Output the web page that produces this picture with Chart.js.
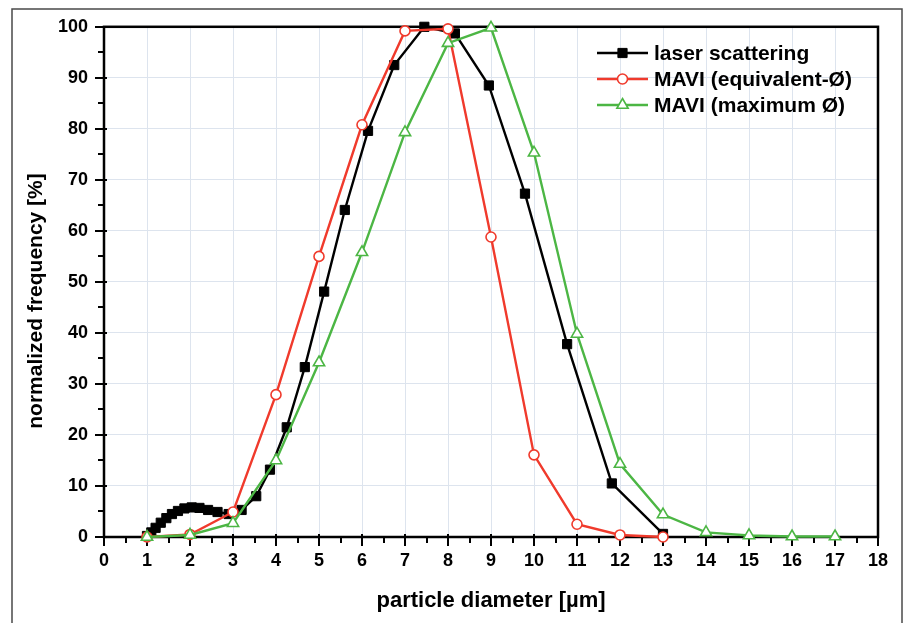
<!DOCTYPE html>
<html>
<head>
<meta charset="utf-8">
<script src="https://cdn.jsdelivr.net/npm/chart.js@4/dist/chart.umd.min.js"></script>
<style>
  html, body { margin: 0; padding: 0; background: #fff; }
  #chart { display: block; }
</style>
</head>
<body>
<canvas id="chart" width="912" height="623"></canvas>
<script>
// laser scattering (log-spaced bins)
const laserX = [1.0, 1.1, 1.2, 1.32, 1.45, 1.58, 1.72, 1.87, 2.04, 2.22, 2.42, 2.64, 2.9,
                3.2, 3.54, 3.86, 4.25, 4.67, 5.12, 5.6, 6.14, 6.75, 7.45, 8.16, 8.95,
                9.79, 10.77, 11.81, 13.0];
const laserY = [0.2, 0.9, 1.8, 2.8, 3.7, 4.5, 5.1, 5.6, 5.8, 5.7, 5.3, 4.9, 4.5,
                5.3, 8.0, 13.2, 21.5, 33.3, 48.1, 64.1, 79.6, 92.5, 100, 98.7, 88.5,
                67.3, 37.8, 10.5, 0.6];

// MAVI (equivalent diameter)
const equivX = [1, 2, 3, 4, 5, 6, 7, 8, 9, 10, 11, 12, 13];
const equivY = [0, 0.5, 4.9, 27.9, 55, 80.8, 99.2, 99.6, 58.8, 16.1, 2.5, 0.4, 0];

// MAVI (maximum diameter)
const maxX = [1, 2, 3, 4, 5, 6, 7, 8, 9, 10, 11, 12, 13, 14, 15, 16, 17];
const maxY = [0, 0.4, 2.7, 15, 34.2, 55.8, 79.3, 96.8, 99.8, 75.3, 39.8, 14.3, 4.4, 0.9, 0.3, 0.1, 0.1];

const seriesNames = ['laser scattering', 'MAVI (equivalent-Ø)', 'MAVI (maximum Ø)'];

const xTitle = 'particle diameter [µm]';
const yTitle = 'normalized frequency [%]';

const FONT = '"Liberation Sans", Arial, sans-serif';

const toPoints = (xs, ys) => xs.map((x, i) => ({ x: x, y: ys[i] }));

// frame around the figure, plot box, in/out tick marks, y title and legend
const axisMarks = {
    id: 'axisMarks',
    beforeDraw(chart) {
        const ctx = chart.ctx;
        ctx.save();
        ctx.strokeStyle = '#4a4a4a';
        ctx.lineWidth = 1.5;
        ctx.strokeRect(12, 9, 890, 640);
        ctx.restore();
    },
    beforeDatasetsDraw(chart) {
        const { ctx, chartArea: a, scales: { x, y } } = chart;
        ctx.save();
        ctx.strokeStyle = '#000';
        ctx.lineWidth = 2.5;
        ctx.strokeRect(a.left, a.top, a.right - a.left, a.bottom - a.top);

        ctx.lineWidth = 2;
        ctx.beginPath();
        for (let v = 0; v <= 18; v += 0.5) {
            const px = Math.round(x.getPixelForValue(v));
            const major = v % 1 === 0;
            ctx.moveTo(px, a.bottom - (major ? 3 : 0));
            ctx.lineTo(px, a.bottom + (major ? 9 : 6));
        }
        for (let v = 0; v <= 100; v += 5) {
            const py = Math.round(y.getPixelForValue(v));
            const major = v % 10 === 0;
            ctx.moveTo(a.left + (major ? 3 : 0), py);
            ctx.lineTo(a.left - (major ? 9 : 6), py);
        }
        ctx.stroke();

        // y axis title, sits a little below the plot centre in the original
        ctx.translate(36, 301);
        ctx.rotate(-Math.PI / 2);
        ctx.fillStyle = '#000';
        ctx.font = 'bold 21px ' + FONT;
        ctx.textAlign = 'center';
        ctx.textBaseline = 'middle';
        ctx.fillText(yTitle, 0, 0);
        ctx.restore();
    },
    afterDraw(chart) {
        const ctx = chart.ctx;
        const x0 = 597, x1 = 648, tx = 654;
        const rows = [53, 79, 105];
        ctx.save();
        chart.data.datasets.forEach((ds, i) => {
            const yy = rows[i];
            ctx.strokeStyle = ds.borderColor;
            ctx.lineWidth = ds.borderWidth;
            ctx.beginPath();
            ctx.moveTo(x0, yy);
            ctx.lineTo(x1, yy);
            ctx.stroke();
            ctx.fillStyle = ds.pointBackgroundColor;
            ctx.strokeStyle = ds.borderColor;
            ctx.lineWidth = ds.pointBorderWidth;
            Chart.helpers.drawPoint(ctx, {
                pointStyle: ds.pointStyle,
                radius: ds.pointRadius,
                rotation: 0,
                borderWidth: ds.pointBorderWidth
            }, (x0 + x1) / 2, yy);
            ctx.fillStyle = '#000';
            ctx.font = 'bold 21px ' + FONT;
            ctx.textBaseline = 'middle';
            ctx.textAlign = 'left';
            ctx.fillText(ds.label, tx, yy + 1);
        });
        ctx.restore();
    }
};

const config = {
    type: 'line',
    data: {
        datasets: [
            {
                label: seriesNames[0],
                data: toPoints(laserX, laserY),
                borderColor: '#000000',
                backgroundColor: '#000000',
                pointBackgroundColor: '#000000',
                pointStyle: 'rect',
                pointRadius: 6.5,
                pointBorderWidth: 1,
                borderWidth: 2.4,
                order: 3
            },
            {
                label: seriesNames[1],
                data: toPoints(equivX, equivY),
                borderColor: '#f03a2c',
                backgroundColor: '#f03a2c',
                pointBackgroundColor: '#ffffff',
                pointStyle: 'circle',
                pointRadius: 5,
                pointBorderWidth: 1.6,
                borderWidth: 2.4,
                order: 2
            },
            {
                label: seriesNames[2],
                data: toPoints(maxX, maxY),
                borderColor: '#4cb644',
                backgroundColor: '#4cb644',
                pointBackgroundColor: '#ffffff',
                pointStyle: 'triangle',
                pointRadius: 6.5,
                pointBorderWidth: 1.6,
                borderWidth: 2.4,
                order: 1
            }
        ]
    },
    options: {
        responsive: false,
        animation: false,
        clip: false,
        layout: { padding: { left: 0, top: 25, right: 34, bottom: 0 } },
        plugins: {
            legend: { display: false },
            tooltip: { enabled: false }
        },
        elements: { line: { tension: 0 } },
        scales: {
            x: {
                type: 'linear',
                min: 0,
                max: 18,
                afterFit: (s) => { s.height = 86; },
                ticks: {
                    stepSize: 1,
                    color: '#000',
                    padding: 13,
                    maxRotation: 0,
                    font: { family: FONT, size: 18, weight: 'bold' }
                },
                grid: { color: '#dde4ee', lineWidth: 1, drawTicks: false },
                border: { display: false },
                title: {
                    display: true,
                    text: xTitle,
                    color: '#000',
                    font: { family: FONT, size: 22, weight: 'bold' },
                    padding: { top: 0, bottom: 9 }
                }
            },
            y: {
                type: 'linear',
                min: 0,
                max: 100,
                afterFit: (s) => { s.width = 104; },
                ticks: {
                    stepSize: 10,
                    color: '#000',
                    padding: 16,
                    font: { family: FONT, size: 18, weight: 'bold' }
                },
                grid: { color: '#dde4ee', lineWidth: 1, drawTicks: false },
                border: { display: false },
                title: { display: false }
            }
        }
    },
    plugins: [axisMarks]
};

new Chart(document.getElementById('chart'), config);
</script>
</body>
</html>
